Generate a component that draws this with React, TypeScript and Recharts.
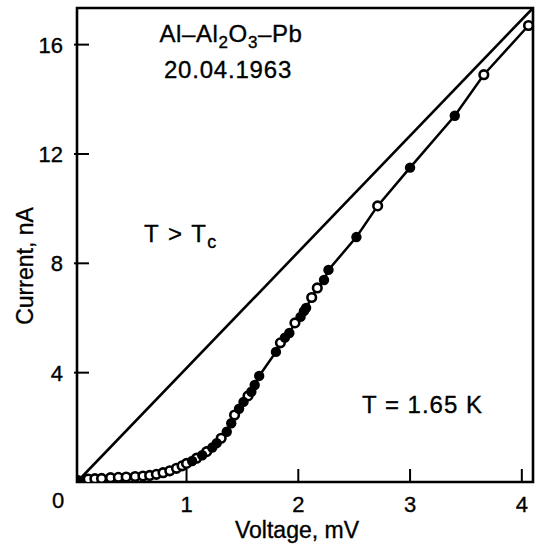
import { ScatterChart, Scatter, XAxis, YAxis, ReferenceArea, Label } from "recharts";

// axes
const xDomain = [0.02, 4.1];
const yDomain = [0, 17.34];
const xTicks = [1, 2, 3, 4];
const yTicks = [0, 4, 8, 12, 16];

// straight line, T > Tc (normal state)
const normalLine = [
  { v: 0.02, i: 0 },
  { v: 4.1, i: 17.34 },
];

// measured points, T = 1.65 K — open circles
const openPoints = [
  { v: 0.12, i: 0.11 }, { v: 0.18, i: 0.12 }, { v: 0.24, i: 0.13 }, { v: 0.32, i: 0.16 },
  { v: 0.39, i: 0.17 }, { v: 0.46, i: 0.18 }, { v: 0.54, i: 0.2 }, { v: 0.61, i: 0.22 },
  { v: 0.67, i: 0.24 }, { v: 0.73, i: 0.28 }, { v: 0.79, i: 0.34 }, { v: 0.85, i: 0.41 },
  { v: 0.91, i: 0.5 }, { v: 0.96, i: 0.59 }, { v: 1.0, i: 0.68 }, { v: 1.09, i: 0.87 },
  { v: 1.18, i: 1.11 }, { v: 1.31, i: 1.6 }, { v: 1.43, i: 2.45 }, { v: 1.55, i: 3.15 },
  { v: 1.84, i: 5.09 }, { v: 1.97, i: 5.82 }, { v: 2.12, i: 6.75 }, { v: 2.17, i: 7.1 },
  { v: 2.71, i: 10.1 }, { v: 3.66, i: 14.9 }, { v: 4.06, i: 16.7 },
];

// measured points — filled circles
const filledPoints = [
  { v: 0.03, i: 0.07 }, { v: 1.05, i: 0.77 }, { v: 1.14, i: 0.98 }, { v: 1.23, i: 1.26 },
  { v: 1.27, i: 1.42 }, { v: 1.36, i: 1.84 }, { v: 1.4, i: 2.15 }, { v: 1.47, i: 2.68 },
  { v: 1.51, i: 2.93 }, { v: 1.58, i: 3.3 }, { v: 1.61, i: 3.55 }, { v: 1.65, i: 3.88 },
  { v: 1.8, i: 4.76 }, { v: 1.88, i: 5.28 }, { v: 1.92, i: 5.45 }, { v: 2.02, i: 6.04 },
  { v: 2.05, i: 6.25 }, { v: 2.07, i: 6.37 }, { v: 2.23, i: 7.39 }, { v: 2.27, i: 7.76 },
  { v: 2.52, i: 8.96 }, { v: 3.0, i: 11.5 }, { v: 3.4, i: 13.4 },
];

// connecting curve goes through all points in voltage order
const curve = [...openPoints, ...filledPoints].sort((a, b) => a.v - b.v);

const FONT = "'Liberation Sans', Arial, Helvetica, sans-serif";
// scanned lettering looks a touch heavier than plain Arial
const ink = { fill: "#000", stroke: "#000", strokeWidth: 0.35 };

function XTick(props: any) {
  const { x, y, payload } = props;
  return (
    <g>
      <line x1={x} x2={x} y1={y} y2={y - 13} stroke="#000" strokeWidth={2} />
      <text x={x} y={y + 30} textAnchor="middle" fontSize={22} fontFamily={FONT} {...ink}>
        {payload.value}
      </text>
    </g>
  );
}

function YTick(props: any) {
  const { x, y, payload } = props;
  if (payload.value === 0) {
    return (
      <text x={x - 19} y={y + 26} textAnchor="middle" fontSize={22} fontFamily={FONT} {...ink}>
        0
      </text>
    );
  }
  return (
    <g>
      <line x1={x - 3} x2={x + 12} y1={y} y2={y} stroke="#000" strokeWidth={2} />
      <text x={x - 14} y={y + 8} textAnchor="end" fontSize={22} fontFamily={FONT} {...ink}>
        {payload.value}
      </text>
    </g>
  );
}

const noDot = () => <g />;
const openDot = (p: any) => (
  <circle cx={p.cx} cy={p.cy} r={4.3} fill="#fff" stroke="#000" strokeWidth={2.6} />
);
const filledDot = (p: any) => <circle cx={p.cx} cy={p.cy} r={5.2} fill="#000" />;

export default function App() {
  return (
    <div style={{ position: "absolute", left: 0, top: 0, width: 539, height: 544, background: "#fff" }}>
      <ScatterChart width={539} height={544} margin={{ top: 8, right: 6, bottom: 32, left: 17 }}>
        <XAxis
          type="number"
          dataKey="v"
          domain={xDomain}
          ticks={xTicks}
          tick={<XTick />}
          tickSize={0}
          tickMargin={0}
          axisLine={false}
          tickLine={false}
          height={30}
          allowDataOverflow
        >
          <Label
            content={(p: any) => (
              <text
                x={p.viewBox.x + p.viewBox.width / 2 - 8}
                y={p.viewBox.y + 56}
                textAnchor="middle"
                fontSize={23}
                fontFamily={FONT}
                {...ink}
              >
                Voltage, mV
              </text>
            )}
          />
        </XAxis>
        <YAxis
          type="number"
          dataKey="i"
          domain={yDomain}
          ticks={yTicks}
          tick={<YTick />}
          tickSize={0}
          tickMargin={0}
          axisLine={false}
          tickLine={false}
          width={60}
          allowDataOverflow
        >
          <Label
            content={(p: any) => {
              const cx = p.viewBox.x + 16;
              const cy = p.viewBox.y + 258;
              return (
                <text
                  x={cx}
                  y={cy}
                  transform={`rotate(-90 ${cx} ${cy})`}
                  textAnchor="middle"
                  fontSize={23}
                  fontFamily={FONT}
                  {...ink}
                >
                  Current, nA
                </text>
              );
            }}
          />
        </YAxis>
        <ReferenceArea
          x1={xDomain[0]}
          x2={xDomain[1]}
          y1={yDomain[0]}
          y2={yDomain[1]}
          fill="none"
          stroke="#000"
          strokeWidth={2.6}
          ifOverflow="visible"
        />
        <Scatter
          data={normalLine}
          line={{ stroke: "#000", strokeWidth: 2.6 }}
          shape={noDot}
          isAnimationActive={false}
        />
        <Scatter
          data={curve}
          line={{ stroke: "#000", strokeWidth: 2.5 }}
          shape={noDot}
          isAnimationActive={false}
        />
        <Scatter data={openPoints} shape={openDot} isAnimationActive={false} />
        <Scatter data={filledPoints} shape={filledDot} isAnimationActive={false} />
      </ScatterChart>
      <svg
        width={539}
        height={544}
        style={{ position: "absolute", left: 0, top: 0, pointerEvents: "none" }}
        fontFamily={FONT}
        fontSize={24}
        {...ink}
      >
        <text x={231} y={42} textAnchor="middle" letterSpacing={0.6}>
          Al–Al<tspan fontSize={17} dy={6}>2</tspan>
          <tspan dy={-6}>O</tspan>
          <tspan fontSize={17} dy={6}>3</tspan>
          <tspan dy={-6}>–Pb</tspan>
        </text>
        <text x={228} y={78} textAnchor="middle" letterSpacing={0.8}>
          20.04.1963
        </text>
        <text x={144} y={242} letterSpacing={1.5}>
          T &gt; T<tspan fontSize={18} dy={6}>c</tspan>
        </text>
        <text x={362} y={413} letterSpacing={1}>T = 1.65 K</text>
      </svg>
    </div>
  );
}
